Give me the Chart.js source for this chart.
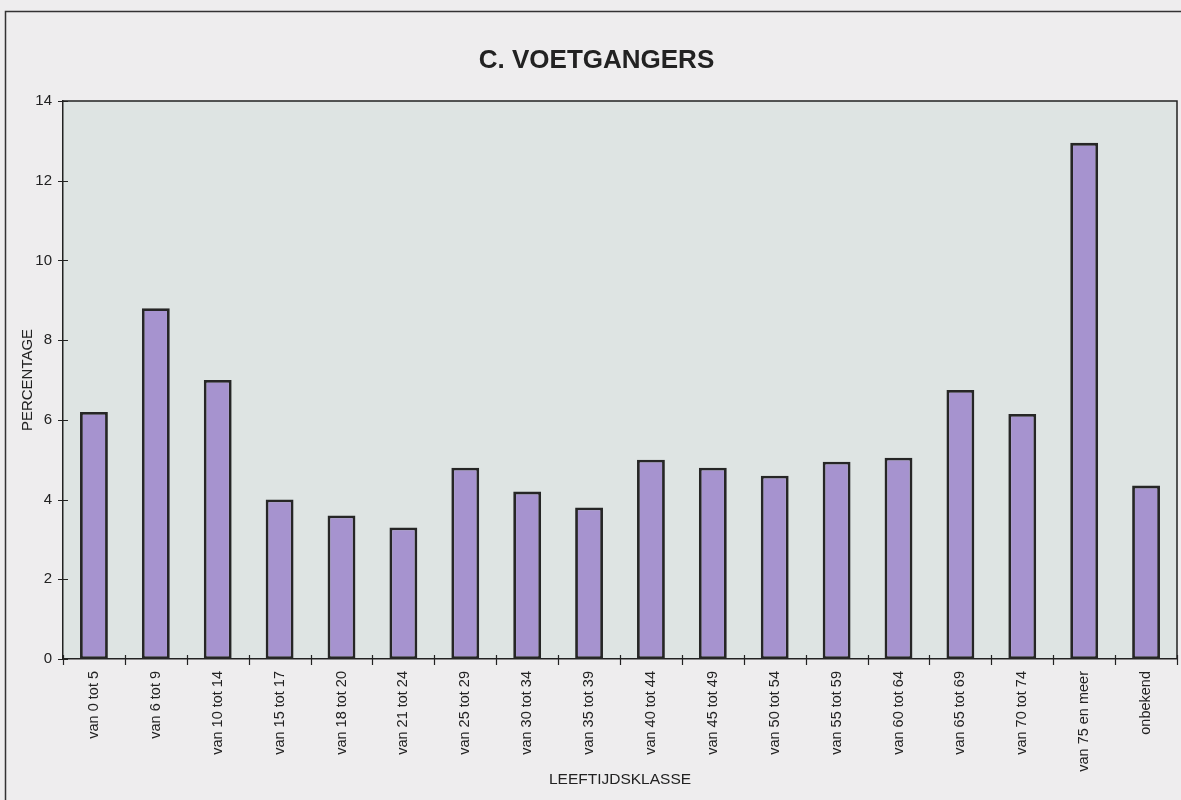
<!DOCTYPE html>
<html>
<head>
<meta charset="utf-8">
<script src="https://cdn.jsdelivr.net/npm/chart.js@4.4.1/dist/chart.umd.min.js"></script>
<style>
  html, body { margin: 0; padding: 0; background: #eeedee; }
  #wrap { position: relative; width: 1181px; height: 800px; }
  canvas { display: block; }
</style>
</head>
<body>
<div id="wrap"><canvas id="c" width="1181" height="800"></canvas></div>
<script>
const categories = [
  "van 0 tot 5", "van 6 tot 9", "van 10 tot 14", "van 15 tot 17", "van 18 tot 20",
  "van 21 tot 24", "van 25 tot 29", "van 30 tot 34", "van 35 tot 39", "van 40 tot 44",
  "van 45 tot 49", "van 50 tot 54", "van 55 tot 59", "van 60 tot 64", "van 65 tot 69",
  "van 70 tot 74", "van 75 en meer", "onbekend"
];
const percentages = [6.2, 8.8, 7.0, 4.0, 3.6, 3.3, 4.8, 4.2, 3.8, 5.0, 4.8, 4.6, 4.95, 5.05, 6.75, 6.15, 12.95, 4.35];
const yTicks = [0, 2, 4, 6, 8, 10, 12, 14];
const chartTitle = "C. VOETGANGERS";
const xTitle = "LEEFTIJDSKLASSE";
const yTitle = "PERCENTAGE";

const FONT = "'Liberation Sans', Arial, sans-serif";
const INK = "#222222";

const decor = {
  id: 'decor',
  beforeDraw(chart) {
    const ctx = chart.ctx;
    const a = chart.chartArea;
    ctx.save();
    ctx.fillStyle = '#eeedee';
    ctx.fillRect(0, 0, chart.width, chart.height);
    // outer frame (left and top)
    ctx.strokeStyle = '#333';
    ctx.lineWidth = 1.5;
    ctx.beginPath();
    ctx.moveTo(5.5, chart.height);
    ctx.lineTo(5.5, 11.5);
    ctx.lineTo(chart.width, 11.5);
    ctx.stroke();
    // plot background
    ctx.fillStyle = '#dee4e3';
    ctx.fillRect(a.left, a.top, a.right - a.left, a.bottom - a.top);
    ctx.restore();
  },
  afterDraw(chart) {
    const ctx = chart.ctx;
    const a = chart.chartArea;
    const xs = chart.scales.x, ys = chart.scales.y;
    ctx.save();
    ctx.strokeStyle = '#222';
    ctx.lineWidth = 1.5;
    // plot top and right border
    ctx.beginPath();
    ctx.moveTo(a.left, a.top);
    ctx.lineTo(a.right, a.top);
    ctx.lineTo(a.right, a.bottom);
    ctx.stroke();
    // y ticks crossing the axis
    ctx.lineWidth = 1.2;
    ctx.beginPath();
    yTicks.forEach(v => {
      const y = Math.round(ys.getPixelForValue(v)) + 0.5;
      ctx.moveTo(a.left - 5, y);
      ctx.lineTo(a.left + 5, y);
    });
    // x ticks between categories
    const n = categories.length;
    for (let i = 0; i <= n; i++) {
      let x;
      if (i === 0) x = a.left;
      else if (i === n) x = a.right;
      else x = (xs.getPixelForValue(i - 1) + xs.getPixelForValue(i)) / 2;
      x = Math.round(x) + 0.5;
      ctx.moveTo(x, a.bottom - 4);
      ctx.lineTo(x, a.bottom + 6);
    }
    ctx.stroke();
    ctx.restore();
  }
};

new Chart(document.getElementById('c'), {
  type: 'bar',
  data: {
    labels: categories,
    datasets: [{
      data: percentages,
      backgroundColor: '#a693cf',
      borderColor: '#262626',
      borderWidth: 2.8,
      borderSkipped: false,
      categoryPercentage: 1.0,
      barPercentage: 0.45
    }]
  },
  options: {
    responsive: false,
    animation: false,
    devicePixelRatio: 1,
    layout: { padding: { left: 16, right: 4, top: 0, bottom: 0 } },
    plugins: {
      legend: { display: false },
      tooltip: { enabled: false },
      title: {
        display: true,
        text: chartTitle,
        color: INK,
        font: { family: FONT, size: 26, weight: 'bold', lineHeight: 1.2 },
        padding: { top: 45, bottom: 24.8 }
      }
    },
    scales: {
      x: {
        grid: { display: false, drawTicks: false },
        border: { display: true, color: '#222', width: 1.5 },
        ticks: {
          autoSkip: false,
          minRotation: 90,
          maxRotation: 90,
          padding: 12,
          color: INK,
          font: { family: FONT, size: 14.5 }
        },
        title: {
          display: true,
          text: xTitle,
          color: INK,
          font: { family: FONT, size: 15.5, lineHeight: 1.2 },
          padding: { top: 0, bottom: 11 }
        },
        afterFit(scale) { scale.height = 141; }
      },
      y: {
        min: 0,
        max: 14,
        grid: { display: false, drawTicks: false },
        border: { display: true, color: '#222', width: 1.5 },
        afterBuildTicks(scale) { scale.ticks = yTicks.map(v => ({ value: v })); },
        ticks: {
          padding: 11,
          color: INK,
          font: { family: FONT, size: 15 }
        },
        title: {
          display: true,
          text: yTitle,
          color: INK,
          font: { family: FONT, size: 15, lineHeight: 1.2 },
          padding: { top: 3, bottom: 0 }
        },
        afterFit(scale) { scale.width = 47; }
      }
    }
  },
  plugins: [decor]
});
</script>
</body>
</html>
